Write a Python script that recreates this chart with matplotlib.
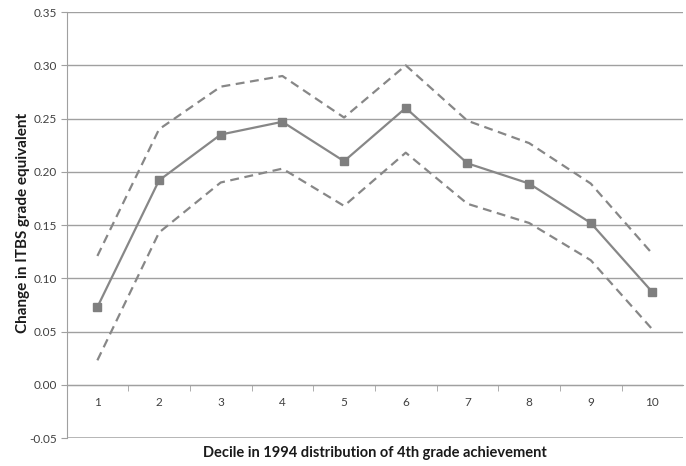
import matplotlib.pyplot as plt
import numpy as np

# Fonts
plt.rcParams['font.family'] = ['Lato', 'DejaVu Sans']

# Data: estimated change by decile with confidence band
deciles = [1, 2, 3, 4, 5, 6, 7, 8, 9, 10]
estimate = [0.073, 0.192, 0.235, 0.247, 0.210, 0.260, 0.208, 0.189, 0.152, 0.087]
upper = [0.121, 0.240, 0.280, 0.290, 0.251, 0.300, 0.248, 0.227, 0.189, 0.123]
lower = [0.023, 0.143, 0.190, 0.203, 0.168, 0.218, 0.170, 0.152, 0.117, 0.052]
y_ticks = [-0.05, 0.00, 0.05, 0.10, 0.15, 0.20, 0.25, 0.30, 0.35]

line_color = '#878787'
grid_color = '#a0a0a0'
text_color = '#404040'


def main():
    fig = plt.figure(figsize=(6.86, 4.66), dpi=100)
    ax = fig.add_axes([0.097, 0.060, 0.899, 0.914])

    # Horizontal gridlines (bottom one drawn heavier)
    for y in y_ticks:
        lw = 1.8 if y == y_ticks[0] else 1.0
        ax.axhline(y, color=grid_color, linewidth=lw, zorder=0)

    # Confidence band and estimate
    ax.plot(deciles, upper, color=line_color, linewidth=1.6, linestyle=(0, (4, 2.5)))
    ax.plot(deciles, lower, color=line_color, linewidth=1.6, linestyle=(0, (4, 2.5)))
    ax.plot(deciles, estimate, color=line_color, linewidth=1.6,
            marker='s', markersize=6, markerfacecolor='#7f7f7f', markeredgecolor='#7f7f7f')

    ax.set_xlim(0.5, 10.5)
    ax.set_ylim(-0.05, 0.35)

    # Category axis crosses at zero
    for side in ['top', 'right']:
        ax.spines[side].set_visible(False)
    ax.spines['bottom'].set_position(('data', 0))
    ax.spines['bottom'].set_color(grid_color)
    ax.spines['left'].set_color(grid_color)

    ax.set_xticks(deciles)
    ax.set_xticklabels([str(d) for d in deciles], fontsize=8.5, color=text_color)
    ax.set_xticks(np.arange(1.5, 10.5, 1), minor=True)
    ax.tick_params(axis='x', which='major', length=0, pad=9)
    ax.tick_params(axis='x', which='minor', length=4, color=grid_color)

    ax.set_yticks(y_ticks)
    ax.set_yticklabels(['{:.2f}'.format(y) for y in y_ticks], fontsize=8.5, color=text_color)
    ax.tick_params(axis='y', length=4, color=grid_color, pad=3)

    fig.text(0.033, 0.522, 'Change in ITBS grade equivalent', rotation=90,
             ha='center', va='center', fontsize=11, fontweight='bold', color='#1a1a1a')
    fig.text(0.546, 0.027, 'Decile in 1994 distribution of 4th grade achievement',
             ha='center', va='center', fontsize=10.5, fontweight='bold', color='#1a1a1a')

    plt.savefig('out.png', dpi=100)


if __name__ == '__main__':
    main()
